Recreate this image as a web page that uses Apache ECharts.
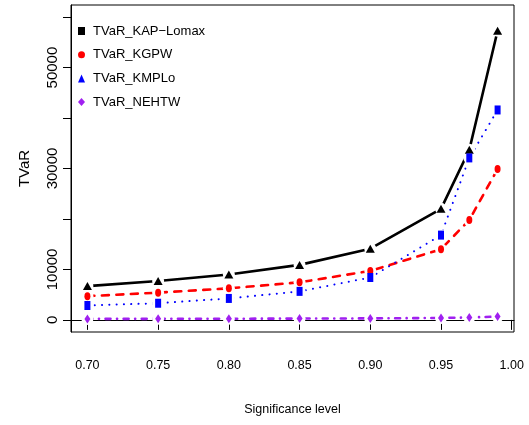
<!DOCTYPE html>
<html><head><meta charset="utf-8">
<script src="https://cdn.jsdelivr.net/npm/echarts@6/dist/echarts.min.js"></script>
<style>html,body{margin:0;padding:0;background:#fff}#c{width:529px;height:425px}</style>
</head><body><div id="c"></div>
<script>
// ---- data ----
const levels = [0.70, 0.75, 0.80, 0.85, 0.90, 0.95, 0.97, 0.99];
const kapLomax = [6700, 7700, 9000, 10900, 14100, 22000, 33700, 57300];
const kgpw     = [4700, 5400, 6250, 7450, 9700, 14000, 19800, 29900];
const kmplo    = [2850, 3300, 4250, 5650, 8400, 16800, 32100, 41600];
const nehtw    = [200, 210, 230, 260, 300, 380, 480, 650];
const seriesNames = ['TVaR_KAP\u2212Lomax', 'TVaR_KGPW', 'TVaR_KMPLo', 'TVaR_NEHTW'];
const xTicks = [0.70, 0.75, 0.80, 0.85, 0.90, 0.95, 1.00];
const yTicks = [0, 10000, 20000, 30000, 40000, 50000, 60000];
const yLabels = [0, 10000, 30000, 50000];

const sans = '"Liberation Sans", Arial, sans-serif';

const toPts = arr => arr.map((v, i) => [levels[i], v]);
const defs = [
  {name: seriesNames[0], data: kapLomax, color: '#000000', width: 2.6, dash: 'solid', sym: 'triangle', size: [9, 8], legendIcon: 'rect'},
  {name: seriesNames[1], data: kgpw, color: '#ff0000', width: 2.6, dash: [7, 7.5], sym: 'circle', size: [6, 8], legendIcon: 'circle'},
  {name: seriesNames[2], data: kmplo, color: '#0000ff', width: 2, dash: [0.1, 7.2], sym: 'rect', size: [6, 9], legendIcon: 'triangle'},
  {name: seriesNames[3], data: nehtw, color: '#a020f0', width: 2.6, dash: [5, 6.5, 0.1, 6.5], sym: 'diamond', size: [6, 9], legendIcon: 'diamond'}
];

const series = [];
defs.forEach(d => {
  series.push({
    type: 'line', name: d.name + '_line', data: toPts(d.data), showSymbol: false, z: 2,
    lineStyle: {color: d.color, width: d.width, type: d.dash, cap: 'round'}, silent: true
  });
});
defs.forEach(d => {
  series.push({
    type: 'scatter', name: d.name + '_gap', data: toPts(d.data), z: 3, silent: true,
    symbol: 'circle', symbolSize: 12, itemStyle: {color: '#ffffff', opacity: 1}
  });
});
defs.forEach(d => {
  series.push({
    type: 'scatter', name: d.name, data: toPts(d.data), z: 4,
    symbol: d.sym, symbolSize: d.size, symbolKeepAspect: false,
    itemStyle: {color: d.color, opacity: 1}
  });
});

const chart = echarts.init(document.getElementById('c'), null, {renderer: 'canvas'});
chart.setOption({
  animation: false,
  backgroundColor: '#ffffff',
  grid: {left: 71, right: 15, top: 5, bottom: 93, show: true, borderColor: '#000', borderWidth: 1, backgroundColor: 'transparent'},
  legend: {
    orient: 'vertical', left: 78, top: 23, padding: 0, itemWidth: 7, itemHeight: 8, itemGap: 7.7,
    data: defs.map(d => ({name: d.name, icon: d.legendIcon})),
    textStyle: {fontFamily: sans, fontSize: 13, color: '#000', lineHeight: 16, padding: [0, 0, 0, 3]},
    selectedMode: false
  },
  xAxis: {
    type: 'value', min: 0.6884, max: 1.0016,
    name: 'Significance level', nameLocation: 'middle', nameGap: 71,
    nameTextStyle: {fontFamily: sans, fontSize: 12.5, color: '#000'},
    axisLine: {show: true, lineStyle: {color: '#000'}},
    axisTick: {show: true, length: 10, lineStyle: {color: '#000'}, customValues: xTicks},
    axisLabel: {fontFamily: sans, fontSize: 12.5, color: '#000', margin: 27, customValues: xTicks,
      formatter: v => v.toFixed(2)},
    splitLine: {show: false}
  },
  yAxis: {
    type: 'value', min: -2400, max: 62400,
    name: 'TVaR', nameLocation: 'middle', nameGap: 39, nameRotate: 90,
    nameTextStyle: {fontFamily: sans, fontSize: 15, color: '#000'},
    axisLine: {show: true, lineStyle: {color: '#000'}},
    axisTick: {show: true, length: 8, lineStyle: {color: '#000'}, customValues: yTicks},
    axisLabel: {fontFamily: sans, fontSize: 15, color: '#000', rotate: 90, margin: 11, customValues: yLabels,
      formatter: v => String(v)},
    splitLine: {show: false}
  },
  series: series
});
</script></body></html>
